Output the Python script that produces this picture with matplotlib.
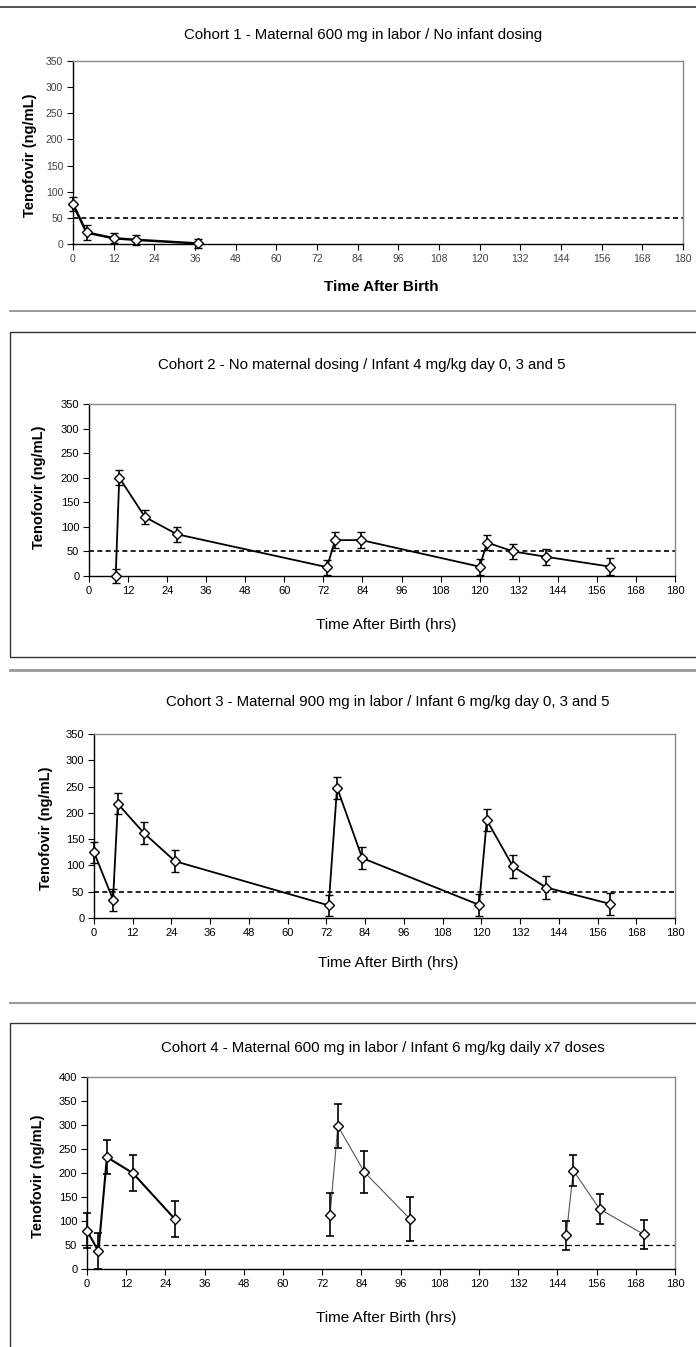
import matplotlib
matplotlib.use("Agg")
import matplotlib.pyplot as plt
from matplotlib.lines import Line2D
from matplotlib.patches import Rectangle

plt.rcParams['font.family'] = ['Liberation Sans', 'DejaVu Sans']

W, H = 696, 1347

# cohort 1
c1_t = [0, 4, 12, 18.5, 37]
c1_y = [76, 22, 11, 8, 1]
c1_err = [13, 14, 10, 9, 9]

# cohort 2
c2_t = [8.2, 9.3, 17.2, 27, 73.1, 75.6, 83.7, 120, 122.3, 130.3, 140.5, 160.1]
c2_y = [0, 200, 120, 85, 18, 73, 73, 19, 68, 50, 39, 19]
c2_err = [15, 15, 15, 15, 15, 16, 16, 16, 16, 15, 16, 17]

# cohort 3
c3_t = [0, 5.9, 7.4, 15.4, 25.1, 72.7, 75.3, 83.1, 119.3, 121.7, 129.8, 140.1, 159.8]
c3_y = [125, 35, 217, 162, 108, 24, 248, 114, 25, 186, 98, 58, 27]
c3_err = [20, 21, 20, 21, 21, 20, 21, 21, 21, 21, 21, 21, 21]

# cohort 4 (three separate dosing groups)
c4_t = [[0, 3.5, 6.1, 14, 26.9], [74.4, 76.8, 84.9, 98.9], [146.7, 148.9, 156.9, 170.5]]
c4_y = [[80, 37, 233, 200, 104], [113, 298, 202, 104], [70, 205, 125, 72]]
c4_err = [[36, 37, 36, 37, 38], [45, 46, 44, 45], [31, 32, 31, 31]]

titles = [
    "Cohort 1 - Maternal 600 mg in labor / No infant dosing",
    "Cohort 2 - No maternal dosing / Infant 4 mg/kg day 0, 3 and 5",
    "Cohort 3 - Maternal 900 mg in labor / Infant 6 mg/kg day 0, 3 and 5",
    "Cohort 4 - Maternal 600 mg in labor / Infant 6 mg/kg daily x7 doses",
]
xlabels = ["Time After Birth", "Time After Birth (hrs)", "Time After Birth (hrs)", "Time After Birth (hrs)"]
ylabel = "Tenofovir (ng/mL)"
xticks = list(range(0, 181, 12))
threshold = 50


def fx(px):
    return px / W


def fy(py):
    return 1 - py / H


fig = plt.figure(figsize=(W / 100, H / 100), dpi=100)

# page rules and boxes
fig.add_artist(Line2D([0, 1], [fy(7), fy(7)], color='#333333', lw=1.2))
fig.add_artist(Line2D([fx(10), 1], [fy(311), fy(311)], color='#888888', lw=1.2))
fig.add_artist(Rectangle((fx(10), fy(657)), 1, fy(332) - fy(657), fill=False, ec='#333333', lw=1.0))
fig.add_artist(Line2D([fx(10), 1], [fy(670), fy(670)], color='#999999', lw=2.0))
fig.add_artist(Line2D([fx(10), 1], [fy(1003), fy(1003)], color='#999999', lw=1.5))
fig.add_artist(Rectangle((fx(10), -0.1), 1, fy(1023) + 0.1, fill=False, ec='#333333', lw=1.0))

# axes positions [left, top, right, bottom] in pixels
boxes = [(73, 61, 683, 244), (89, 404, 675, 576), (94, 734, 675, 918), (87, 1077, 675, 1269)]
title_pos = [(363, 35), (362, 365), (388, 702), (383, 1048)]
xlab_pos = [(381, 287), (386, 625), (388, 963), (386, 1318)]
ylab_pos = [(30, 155), (39, 487), (46, 828), (38, 1176)]

axes = []
for i, (l, t, r, b) in enumerate(boxes):
    ax = fig.add_axes([fx(l), fy(b), fx(r) - fx(l), fy(t) - fy(b)])
    ax.set_xlim(0, 180)
    ax.set_xticks(xticks)
    if i == 3:
        ax.set_ylim(0, 400)
        ax.set_yticks(range(0, 401, 50))
    else:
        ax.set_ylim(0, 350)
        ax.set_yticks(range(0, 351, 50))
    tsize = 7.5 if i == 0 else 8
    tcol = '#444444' if i == 0 else 'black'
    ax.tick_params(axis='both', direction='out', length=4, width=0.8, labelsize=tsize, labelcolor=tcol, pad=3)
    for s in ['top', 'right']:
        ax.spines[s].set_color('#888888')
        ax.spines[s].set_linewidth(1.0)
    for s in ['left', 'bottom']:
        ax.spines[s].set_color('black')
        ax.spines[s].set_linewidth(1.0)
    ax.axhline(threshold, color='black', ls=(0, (3, 2)) if i < 3 else (0, (4, 2.5)), lw=1.2 if i < 3 else 0.9, zorder=1)
    fig.text(fx(title_pos[i][0]), fy(title_pos[i][1]), titles[i], ha='center', va='center', fontsize=10.8)
    fig.text(fx(xlab_pos[i][0]), fy(xlab_pos[i][1]), xlabels[i], ha='center', va='center',
             fontsize=11, fontweight='bold' if i == 0 else 'normal')
    fig.text(fx(ylab_pos[i][0]), fy(ylab_pos[i][1]), ylabel, ha='center', va='center', rotation=90,
             fontsize=10.5, fontweight='bold')
    axes.append(ax)

mk = dict(marker='D', markersize=5, markerfacecolor='white', markeredgecolor='black', markeredgewidth=1.0)
eb = dict(ecolor='black', elinewidth=1.2, capsize=3, capthick=1.2)

axes[0].errorbar(c1_t, c1_y, yerr=c1_err, color='black', lw=1.8, clip_on=False, zorder=3, **mk, **eb)
axes[1].errorbar(c2_t, c2_y, yerr=c2_err, color='black', lw=1.3, clip_on=False, zorder=3, **mk, **eb)
axes[2].errorbar(c3_t, c3_y, yerr=c3_err, color='black', lw=1.3, clip_on=False, zorder=3, **mk, **eb)

for k in range(3):
    if k == 0:
        col, lw = 'black', 1.5
    else:
        col, lw = '#555555', 0.8
    axes[3].plot(c4_t[k], c4_y[k], color=col, lw=lw, zorder=2)
    axes[3].errorbar(c4_t[k], c4_y[k], yerr=c4_err[k], fmt='none', clip_on=False, zorder=3, **eb)
    axes[3].plot(c4_t[k], c4_y[k], ls='none', clip_on=False, zorder=4, **mk)

fig.savefig("out.png", dpi=100)
